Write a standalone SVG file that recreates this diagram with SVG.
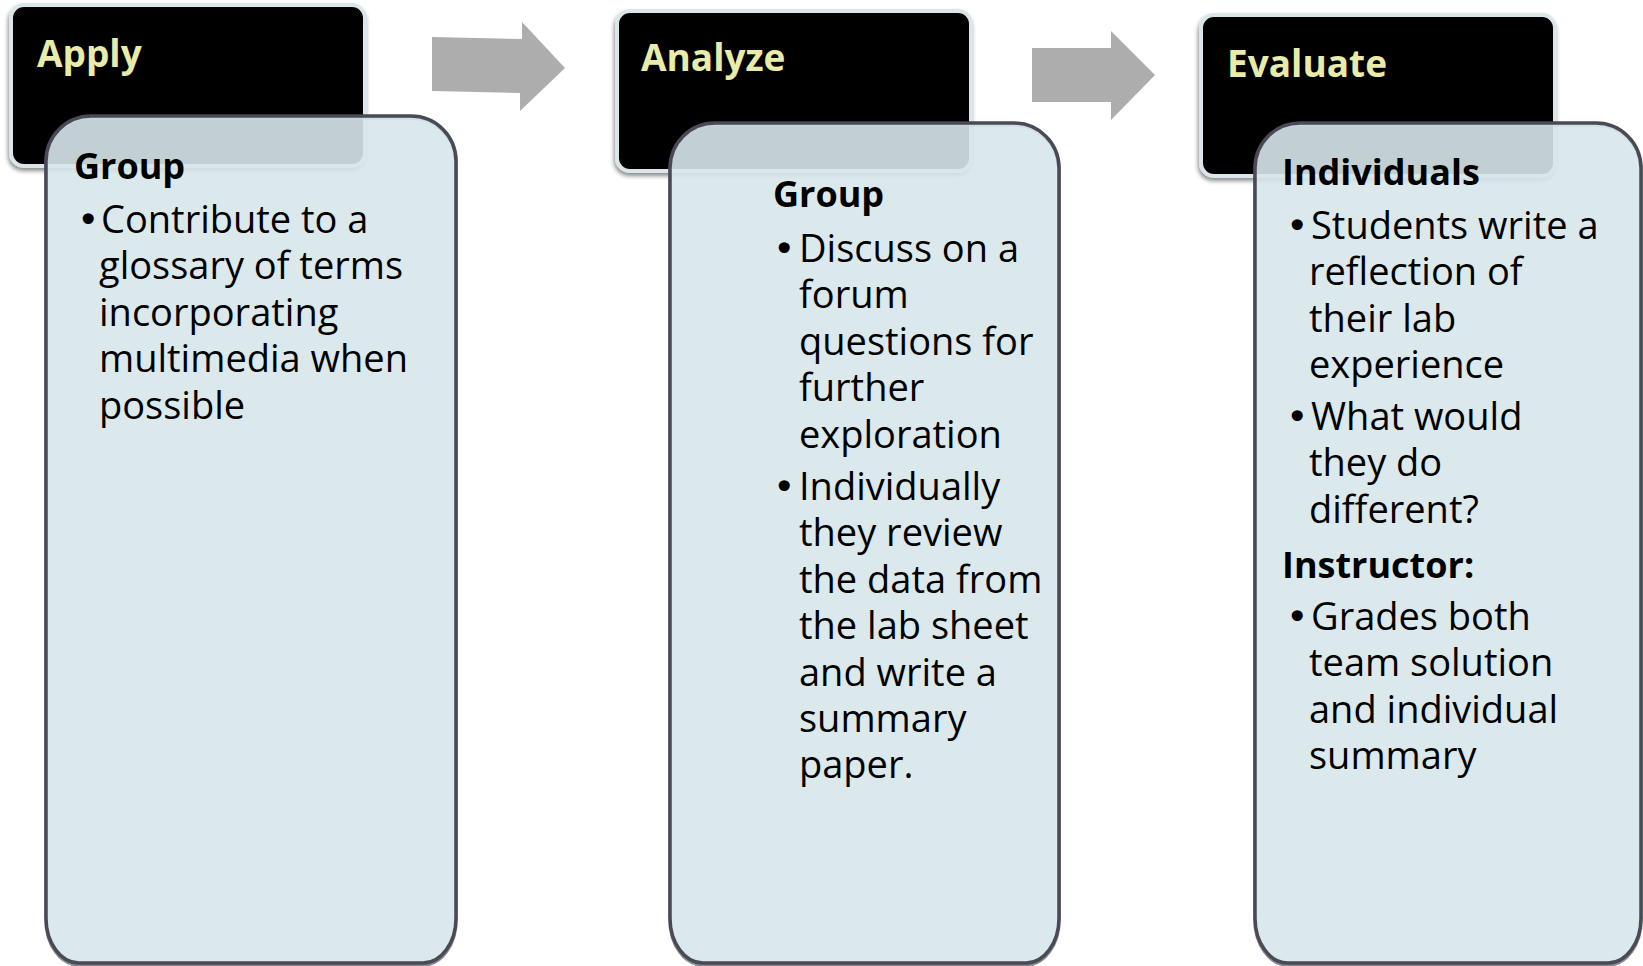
<svg xmlns="http://www.w3.org/2000/svg" width="1643" height="966" viewBox="0 0 1643 966">
<defs>
<filter id="sh" x="-10%" y="-10%" width="120%" height="125%">
<feDropShadow dx="-1" dy="3" stdDeviation="2" flood-color="#000" flood-opacity="0.45"/>
</filter>
<style>
.hdr{fill:#000;stroke:#dae6ea;stroke-width:4;filter:url(#sh)}
.ht{font-family:"Open Sans","Liberation Sans",sans-serif;font-weight:700;font-size:37px;fill:#e8eba9}
.card{fill:#d8e7ea;fill-opacity:0.9;stroke:#4a4a56;stroke-width:3.5}
.cs{fill:none;stroke:#3a3a44;stroke-width:3.5;opacity:0.6}
.b{font-family:"Open Sans","Liberation Sans",sans-serif;font-weight:700;font-size:36px;fill:#000}
.t{font-family:"Open Sans","Liberation Sans",sans-serif;font-size:38px;fill:#000}
.bd{font-family:"DejaVu Sans",sans-serif;font-size:38px}
.arrow{fill:#adadad}
</style>
<path id="cApply" d="M46,161 A45,45 0 0 1 91,116 H411 A45,45 0 0 1 456,161 V918 A33,45 0 0 1 423,963 H79 A33,45 0 0 1 46,918 Z"/>
<path id="cAnalyze" d="M670,168 A45,45 0 0 1 715,123 H1014 A45,45 0 0 1 1059,168 V918 A33,45 0 0 1 1026,963 H703 A33,45 0 0 1 670,918 Z"/>
<path id="cEval" d="M1255,168 A45,45 0 0 1 1300,123 H1596 A45,45 0 0 1 1641,168 V918 A33,45 0 0 1 1608,963 H1288 A33,45 0 0 1 1255,918 Z"/>
</defs>
<rect width="1643" height="966" fill="#fff"/>

<g id="connectors">
<polygon class="arrow" points="432,37 522,39 522,22 565,68 520,111 520,93 432,91"/>
<polygon class="arrow" points="1032,48 1111,48 1111,31 1155,75 1111,120 1111,102 1032,102"/>
</g>

<g id="apply">
<rect class="hdr" x="11" y="5" width="354" height="161" rx="13"/>
<text class="ht" x="37" y="67">Apply</text>
<use href="#cApply" class="cs" transform="translate(0,2)"/>
<use href="#cApply" class="card"/>
<text class="b" x="74" y="179">Group</text>
<text class="t" x="77" y="233"><tspan class="bd">•</tspan><tspan x="101">Contribute to a</tspan><tspan x="99" dy="46.4">glossary of terms</tspan><tspan x="99" dy="46.4">incorporating</tspan><tspan x="99" dy="46.4">multimedia when</tspan><tspan x="99" dy="46.4">possible</tspan></text>
</g>

<g id="analyze">
<rect class="hdr" x="617" y="11" width="354" height="160" rx="13"/>
<text class="ht" x="641" y="71">Analyze</text>
<use href="#cAnalyze" class="cs" transform="translate(0,2)"/>
<use href="#cAnalyze" class="card"/>
<text class="b" x="773" y="207">Group</text>
<text class="t" x="773" y="262"><tspan class="bd">•</tspan><tspan x="799">Discuss on a</tspan><tspan x="799" dy="46.4">forum</tspan><tspan x="799" dy="46.4">questions for</tspan><tspan x="799" dy="46.4">further</tspan><tspan x="799" dy="46.4">exploration</tspan></text>
<text class="t" x="773" y="500"><tspan class="bd">•</tspan><tspan x="799">Individually</tspan><tspan x="799" dy="46.4">they review</tspan><tspan x="799" dy="46.4">the data from</tspan><tspan x="799" dy="46.4">the lab sheet</tspan><tspan x="799" dy="46.4">and write a</tspan><tspan x="799" dy="46.4">summary</tspan><tspan x="799" dy="46.4">paper.</tspan></text>
</g>

<g id="evaluate">
<rect class="hdr" x="1201" y="15" width="354" height="161" rx="13"/>
<text class="ht" x="1227" y="77">Evaluate</text>
<use href="#cEval" class="cs" transform="translate(0,2)"/>
<use href="#cEval" class="card"/>
<text class="b" x="1282" y="185">Individuals</text>
<text class="t" x="1286" y="239"><tspan class="bd">•</tspan><tspan x="1311">Students write a</tspan><tspan x="1309" dy="46.4">reflection of</tspan><tspan x="1309" dy="46.4">their lab</tspan><tspan x="1309" dy="46.4">experience</tspan></text>
<text class="t" x="1286" y="430"><tspan class="bd">•</tspan><tspan x="1311">What would</tspan><tspan x="1309" dy="46.4">they do</tspan><tspan x="1309" dy="46.4">different?</tspan></text>
<text class="b" x="1282" y="578">Instructor:</text>
<text class="t" x="1286" y="630"><tspan class="bd">•</tspan><tspan x="1311">Grades both</tspan><tspan x="1309" dy="46.4">team solution</tspan><tspan x="1309" dy="46.4">and individual</tspan><tspan x="1309" dy="46.4">summary</tspan></text>
</g>
</svg>
